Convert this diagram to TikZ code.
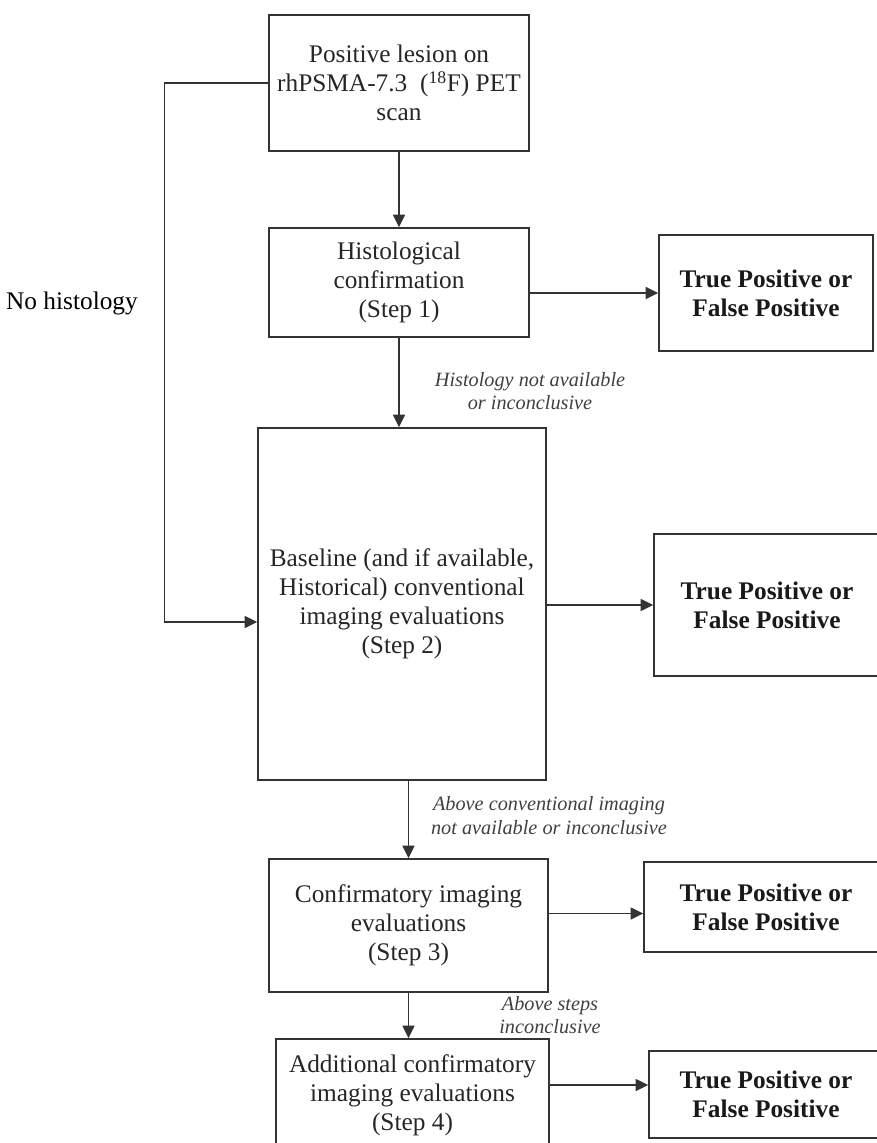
\documentclass[tikz,border=0pt]{standalone}
\usepackage{fontspec}
\setmainfont{Liberation Serif}
\usetikzlibrary{arrows.meta,positioning}
\tikzset{
  box/.style = {draw=black!80, line width=1.1pt, align=center, inner sep=2pt, text=black!85},
  tp/.style = {box, font=\fontsize{19}{21.75}\selectfont\bfseries, text=black!90},
  arr/.style = {draw=black!80, line width=1.1pt, -{Triangle[length=9.5pt,width=9pt]}},
  note/.style = {align=center, inner sep=0pt, text=black!75, font=\fontsize{15.2}{17.5}\selectfont\itshape},
}
\begin{document}
\begin{tikzpicture}[x=0.75pt, y=-0.75pt, font=\fontsize{19}{21.75}\selectfont]
   \useasboundingbox (0,0) rectangle (876,1143);
   % main column
   \node[box, minimum width=195pt, minimum height=102pt] (PET) at (399,83)
      {Positive lesion on\\rhPSMA-7.3~ (\textsuperscript{18}F) PET\\scan};
   \node[box, minimum width=195pt, minimum height=81.75pt] (Hist) at (399,282.5)
      {Histological\\confirmation\\(Step 1)};
   \node[box, minimum width=216pt, minimum height=264pt] (Base) at (402,604)
      {Baseline (and if available,\\Historical) conventional\\imaging evaluations\\(Step 2)};
   \node[box, minimum width=209.25pt, minimum height=99.75pt] (Conf) at (408.5,925.5)
      {Confirmatory imaging\\evaluations\\(Step 3)};
   \node[box, minimum width=204.75pt, minimum height=84pt] (Add) at (412.5,1095)
      {Additional confirmatory\\imaging evaluations\\(Step 4)};
   % outcomes
   \node[tp, minimum width=160.5pt, minimum height=87pt] (TP1) at (766,293) {True Positive or\\False Positive};
   \node[tp, minimum width=169.5pt, minimum height=106.5pt] (TP2) at (767,605) {True Positive or\\False Positive};
   \node[tp, minimum width=183pt, minimum height=67.5pt] (TP3) at (766,907) {True Positive or\\False Positive};
   \node[tp, minimum width=175.5pt, minimum height=65.25pt] (TP4) at (766,1094.5) {True Positive or\\False Positive};
   % labels
   \node (NoHist) at (72,303) {No histology};
   \node[note] (lblHist) at (530,391) {Histology not available\\or inconclusive};
   \node[note] (lblBase) at (549,815.5) {Above conventional imaging\\not available or inconclusive};
   \node[note] (lblConf) at (550,1015) {Above steps\\inconclusive};
   % arrows
   \coordinate (c2) at ([yshift=-13.5pt]Base.west);
   \coordinate (c3) at ([yshift=9pt]Conf.east);
   \coordinate (c4) at ([yshift=7.5pt]Add.east);
   \draw[arr] (PET) -- (Hist);
   \draw[arr] (Hist.east |- TP1.west) -- (TP1.west);
   \draw[arr] (Hist.south) -- (Hist.south |- Base.north);
   \draw[arr] (PET.west) -- ++(-104,0) |- (c2);
   \draw[arr] (Base.east |- TP2.west) -- (TP2.west);
   \draw[arr] (Conf.north |- Base.south) -- (Conf.north);
   \draw[arr] (c3) -- (c3 -| TP3.west);
   \draw[arr] (Conf.south) -- (Conf.south |- Add.north);
   \draw[arr] (c4) -- (c4 -| TP4.west);
\end{tikzpicture}
\end{document}
